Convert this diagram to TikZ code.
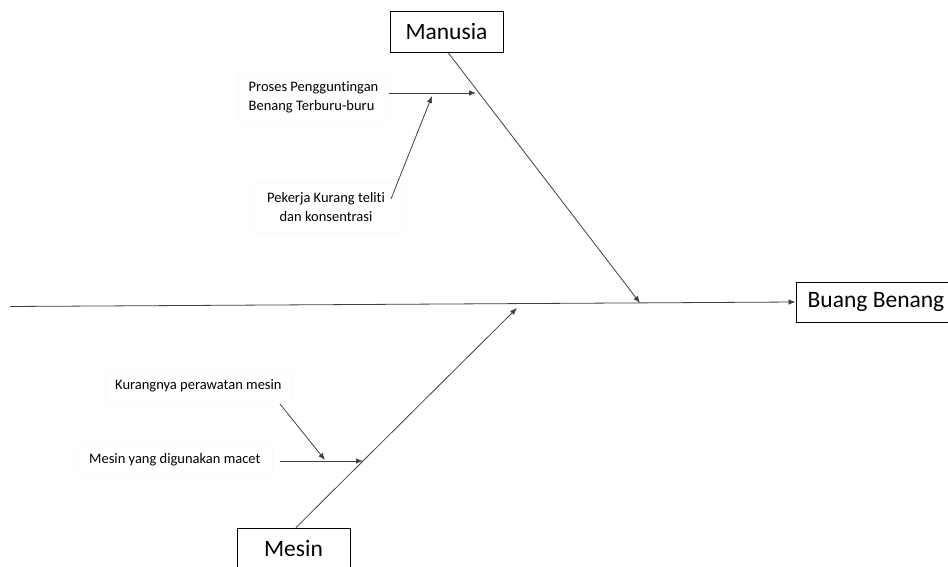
\documentclass[tikz,border=0pt]{standalone}
\usepackage{fontspec}
\setmainfont{Carlito}[Ligatures=CommonOff]
\usetikzlibrary{arrows.meta}
\begin{document}
\begin{tikzpicture}[x=1pt,y=-1pt,
  line/.style={draw=black!75,line width=0.8pt},
  arr/.style={line,-{Latex[length=7pt,width=5.5pt]}},
  catbox/.style={draw=black,line width=0.9pt,fill=white,inner sep=0pt,
    font=\fontsize{23.5}{28}\selectfont},
  cause/.style={draw=black!2,inner sep=0pt,
    font=\fontsize{14.5}{19}\selectfont}]
\useasboundingbox (0,0) rectangle (948,567);
\clip (0,0) rectangle (948,567);

% category and effect boxes
\node[catbox,minimum width=113pt,minimum height=41pt] (manusia) at (446.5,31.5) {Manusia};
\node[catbox,minimum width=113pt,minimum height=41pt] (mesin) at (293.5,548.5) {Mesin};
\node[catbox,minimum width=160pt,minimum height=40pt] (buang) at (876,302) {Buang Benang};

% cause labels
\node[cause,align=left,minimum width=151pt,minimum height=48pt] (proses) at (313.5,97)
  {Proses Pengguntingan\\Benang Terburu-buru};
\node[cause,align=center,minimum width=152pt,minimum height=49pt] (pekerja) at (326,207.5)
  {Pekerja Kurang teliti\\dan konsentrasi};
\node[cause,anchor=west,inner xsep=10pt,minimum height=30pt] (kurang) at (105,386)
  {Kurangnya perawatan mesin};
\node[cause,anchor=west,inner xsep=12pt,minimum height=30pt] (macet) at (77,460)
  {Mesin yang digunakan macet};

% spine
\coordinate (tail) at (10,306.5);
\coordinate (hm) at (640,303);
\coordinate (hs) at (517,308);
\draw[arr] (tail) -- (buang.west);

% main bones
\draw[arr] (manusia.south) ++(1.5,0) -- (hm);
\draw[arr] (mesin.north) ++(2.5,0) -- (hs);

% sub-causes on the Manusia bone
\coordinate (pA) at (476,93);
\coordinate (pB) at (432,96);
\draw[arr] (proses.east |- pA) -- (pA);
\draw[arr] (391,199) coordinate (pk) -- (pB);

% sub-causes on the Mesin bone
\coordinate (mA) at (363,461);
\coordinate (mB) at (325,460);
\draw[arr] (280,461) coordinate (mc) -- (mA);
\draw[arr] (280,404) coordinate (kr) -- (mB);
\end{tikzpicture}
\end{document}
